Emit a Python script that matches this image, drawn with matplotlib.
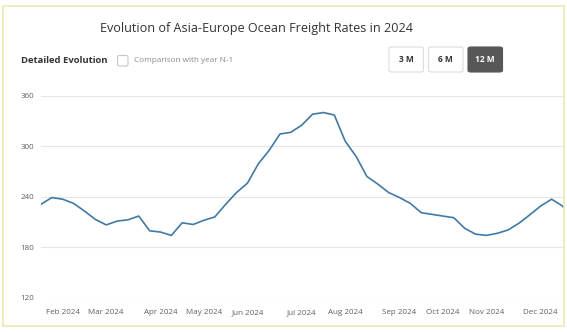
import datetime as dt
import matplotlib
matplotlib.use("Agg")
import matplotlib.pyplot as plt
import matplotlib.dates as mdates
from matplotlib.patches import FancyBboxPatch, Rectangle

plt.rcParams['font.family'] = ['Open Sans', 'DejaVu Sans']

# weekly index values (Saturdays), Jan 20 2024 onwards
start = dt.date(2024, 1, 20)
rates = [231, 239, 237, 232, 223, 213, 206.5, 211, 212.5, 217,
         199.5, 198, 194, 209, 207, 212, 216, 231, 245, 256,
         279, 295, 314.5, 316.5, 325, 338, 340, 337, 306, 288,
         264, 255, 245, 239, 232, 221, 219, 217, 215, 202.5,
         195.5, 194, 196.5, 200.5, 208.5, 218.5, 229, 237, 229, 212]
weeks = [start + dt.timedelta(weeks=i) for i in range(len(rates))]
y_ticks = [120, 180, 240, 300, 360]

# first weekly point of every month (Feb..Dec) gets the label
month_ticks = [d for d in weeks if d.day <= 7 and d.month >= 2]

W, H = 567, 332
fig = plt.figure(figsize=(W / 100, H / 100), dpi=100)
fig.patch.set_facecolor('white')

# card frame
fig.patches.append(Rectangle((3 / W, 6 / H), 561 / W, 320 / H, transform=fig.transFigure,
                             facecolor='none', edgecolor='#efe7b4', linewidth=1.2))

fig.text(256 / W, 1 - 28.5 / H, "Evolution of Asia-Europe Ocean Freight Rates in 2024",
         ha='center', va='center', fontsize=9.1, color='#333333')
fig.text(21 / W, 1 - 60.5 / H, "Detailed Evolution", ha='left', va='center',
         fontsize=6.8, fontweight='bold', color='#333333')
fig.patches.append(FancyBboxPatch((117.5 / W, 1 - 66 / H), 10.5 / W, 10.5 / H,
                                  boxstyle="round,pad=0,rounding_size=0.004",
                                  transform=fig.transFigure, facecolor='white',
                                  edgecolor='#c8c8c8', linewidth=0.8))
fig.text(133.5 / W, 1 - 60.5 / H, "Comparison with year N-1", ha='left', va='center',
         fontsize=5.9, color='#8a8a8a')

buttons = ["3 M", "6 M", "12 M"]
for i, label in enumerate(buttons):
    x0 = 389 + i * 39.5
    active = label == "12 M"
    fig.patches.append(FancyBboxPatch((x0 / W, 1 - 72 / H), 34.5 / W, 25 / H,
                                      boxstyle="round,pad=0,rounding_size=0.005",
                                      transform=fig.transFigure,
                                      facecolor='#575757' if active else 'white',
                                      edgecolor='#575757' if active else '#dcdcdc',
                                      linewidth=0.8))
    fig.text((x0 + 17.25) / W, 1 - 59.5 / H, label, ha='center', va='center',
             fontsize=6, fontweight='bold', color='white' if active else '#333333')

ax = fig.add_axes([41 / W, 1 - 297.7 / H, (564 - 41) / W, (297.7 - 95.7) / H])
ax.set_facecolor('none')
ax.plot(weeks, rates, color='#4279a4', linewidth=1.2, solid_joinstyle='round')

ax.set_ylim(120, 360)
ax.set_xlim(start, start + dt.timedelta(days=337.5))
ax.set_yticks(y_ticks)
ax.set_xticks(month_ticks)
ax.xaxis.set_major_formatter(mdates.DateFormatter('%b %Y'))
ax.grid(axis='y', color='#e6e6e6', linewidth=0.8)
ax.set_axisbelow(True)
for s in ax.spines.values():
    s.set_visible(False)
ax.tick_params(axis='both', length=0, labelsize=5.8, colors='#5f5f5f')
ax.tick_params(axis='x', pad=8)
ax.tick_params(axis='y', pad=5)

fig.savefig("out.png", dpi=100)
